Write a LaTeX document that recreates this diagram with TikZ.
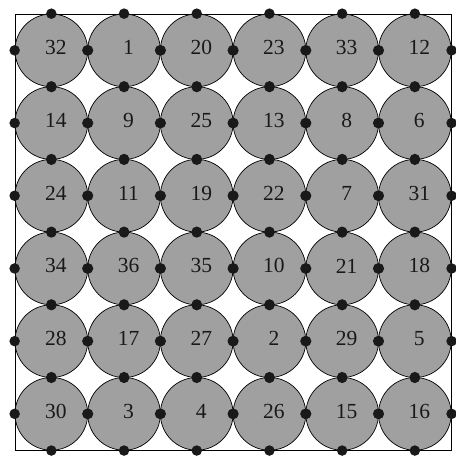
\documentclass[tikz,border=0pt]{standalone}
\usepackage{fontspec}
\setmainfont{Liberation Serif}
\begin{document}
\begin{tikzpicture}[x=1pt,y=1pt,
  cell/.style={circle,draw=black,line width=0.7pt,fill=cellgray,minimum size=72.7pt,inner sep=0pt},
  lab/.style={font=\fontsize{21.5}{21.5}\selectfont,text=black!90,inner sep=0pt,anchor=center},
  pin/.style={circle,fill=black!90,minimum size=10.5pt,inner sep=0pt}]
\definecolor{cellgray}{RGB}{160,160,160}
\useasboundingbox (0,0) rectangle (456,-456);
\draw[line width=0.8pt] (15,-14) coordinate (tl) rectangle (451.2,-450.2) coordinate (br);
\foreach \r [count=\j from 0] in {{32,1,20,23,33,12},{14,9,25,13,8,6},{24,11,19,22,7,31},{34,36,35,10,21,18},{28,17,27,2,29,5},{30,3,4,26,15,16}}{
  \foreach \v [count=\i from 0] in \r {
    \node[cell] (c\i-\j) at ({51.35+72.7*\i},{-(50.35+72.7*\j)}) {};
    \node[lab] (t\i-\j) at ([xshift=4.5pt,yshift=2.5pt]c\i-\j.center) {\v};
  }
}
\foreach \j in {0,...,5}{
  \foreach \i in {0,...,5}{
    \node[pin] (n\i-\j) at (c\i-\j.north) {};
    \node[pin] (s\i-\j) at (c\i-\j.south) {};
    \node[pin] (w\i-\j) at (c\i-\j.west) {};
    \node[pin] (e\i-\j) at (c\i-\j.east) {};
  }
}
\end{tikzpicture}
\end{document}
